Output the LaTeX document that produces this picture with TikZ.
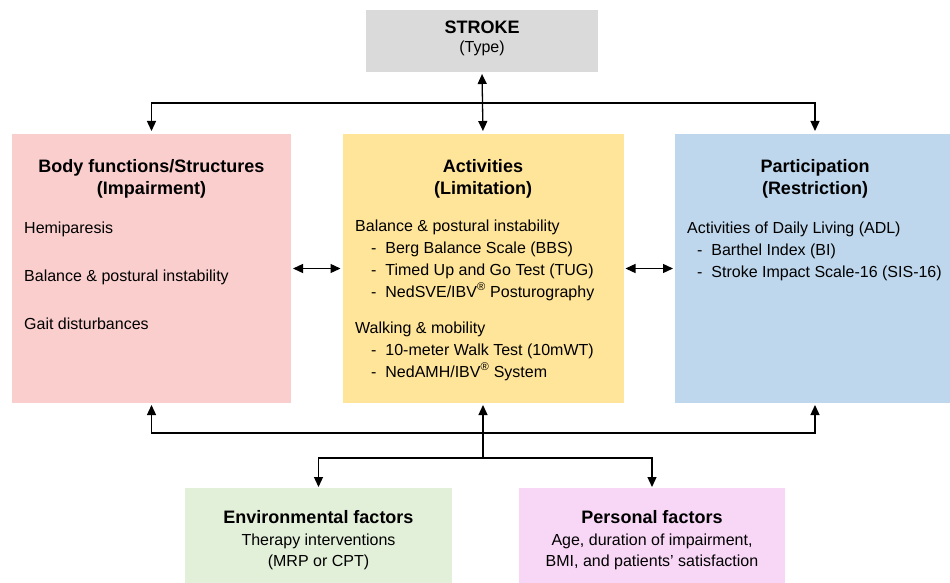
\documentclass[tikz,border=0pt]{standalone}
\usepackage{fontspec}
\setmainfont{Liberation Sans}
\usetikzlibrary{arrows.meta,positioning,calc}
\definecolor{strkG}{RGB}{218,218,218}
\definecolor{bodyR}{RGB}{251,206,206}
\definecolor{actY}{RGB}{255,229,153}
\definecolor{partB}{RGB}{190,215,237}
\definecolor{envG}{RGB}{226,239,217}
\definecolor{persP}{RGB}{248,214,246}

\begin{document}
\begin{tikzpicture}[
  x=1pt, y=-1pt,
  box/.style={inner sep=0pt, outer sep=0pt},
  hd/.style={font=\bfseries\fontsize{18}{22}\selectfont, anchor=base, inner sep=0pt},
  sub/.style={font=\fontsize{16}{21}\selectfont, anchor=base, inner sep=0pt},
  txt/.style={font=\fontsize{16}{22}\selectfont, anchor=base west, inner sep=0pt, align=left},
  arr/.style={-{Triangle[length=10pt,width=9pt]}, line width=1.3pt},
  dbl/.style={{Triangle[length=10pt,width=9pt]}-{Triangle[length=10pt,width=9pt]}, line width=1.3pt}
]
\clip (0,0) rectangle (950,583);
\fill[white] (0,0) rectangle (950,583);
% boxes
\node[box, fill=strkG, minimum width=232pt, minimum height=62pt] (stroke) at (482,41) {};
\node[box, fill=bodyR, minimum width=279pt, minimum height=269pt] (body) at (151.5,268.5) {};
\node[box, fill=actY, minimum width=281pt, minimum height=269pt] (act) at (483,268.5) {};
\node[box, fill=partB, minimum width=280pt, minimum height=269pt] (part) at (815,268.5) {};
\node[box, fill=envG, minimum width=267pt, minimum height=112pt] (env) at (318.5,544) {};
\node[box, fill=persP, minimum width=266pt, minimum height=112pt] (pers) at (652,544) {};

% stroke
\node[hd] (strkT) at (482,33.5) {STROKE};
\node[sub] (strkS) at (482,53) {(Type)};

% body functions
\node[hd] (bodyT1) at (151.5,172) {Body functions/Structures};
\node[hd] (bodyT2) at (151.5,194) {(Impairment)};
\node[txt] (hemi) at (24,233) {Hemiparesis};
\node[txt] (bal) at (24,281) {Balance \& postural instability};
\node[txt] (gait) at (24,329) {Gait disturbances};

% activities (anchor = last line)
\node[hd] (actT1) at (483,172) {Activities};
\node[hd] (actT2) at (483,194) {(Limitation)};
\node[txt] (actL) at (355,377) {Balance \& postural instability\\
  \quad-~~Berg Balance Scale (BBS)\\
  \quad-~~Timed Up and Go Test (TUG)\\
  \quad-~~NedSVE/IBV\textsuperscript{®} Posturography\\[14pt]
  Walking \& mobility\\
  \quad-~~10-meter Walk Test (10mWT)\\
  \quad-~~NedAMH/IBV\textsuperscript{®} System};

% participation
\node[hd] (partT1) at (815,172) {Participation};
\node[hd] (partT2) at (815,194) {(Restriction)};
\node[txt] (partL) at (687,277) {Activities of Daily Living (ADL)\\
  \hspace{10pt}-~~Barthel Index (BI)\\
  \hspace{10pt}-~~Stroke Impact Scale-16 (SIS-16)};

% environmental and personal
\node[hd] (envT) at (318.5,523) {Environmental factors};
\node[sub, align=center] (envS) at (318.5,566) {Therapy interventions\\(MRP or CPT)};
\node[hd] (persT) at (652,523) {Personal factors};
\node[sub, align=center] (persS) at (652,566) {Age, duration of impairment,\\BMI, and patients' satisfaction};

% connectors
\coordinate (topbar) at (483,103);
\coordinate (lowbar) at (483,433);
\coordinate (split) at (483,458);
\draw[dbl, shorten <=2pt, shorten >=3pt] (stroke.south) -- (act.north);
\draw[arr, shorten >=3pt] (topbar) -| (body.north);
\draw[arr, shorten >=3pt] (topbar) -| (part.north);
\draw[dbl, shorten <=2pt, shorten >=2pt] (body.east) -- (act.west);
\draw[dbl, shorten <=2pt, shorten >=2pt] (act.east) -- (part.west);
\draw[arr, shorten >=2pt] (lowbar) -| (body.south);
\draw[arr, shorten >=2pt] (lowbar) -| (part.south);
\draw[arr, shorten >=2pt] (split) -- (act.south);
\draw[arr, shorten >=1pt] (split) -| (env.north);
\draw[arr, shorten >=1pt] (split) -| (pers.north);
\end{tikzpicture}
\end{document}
